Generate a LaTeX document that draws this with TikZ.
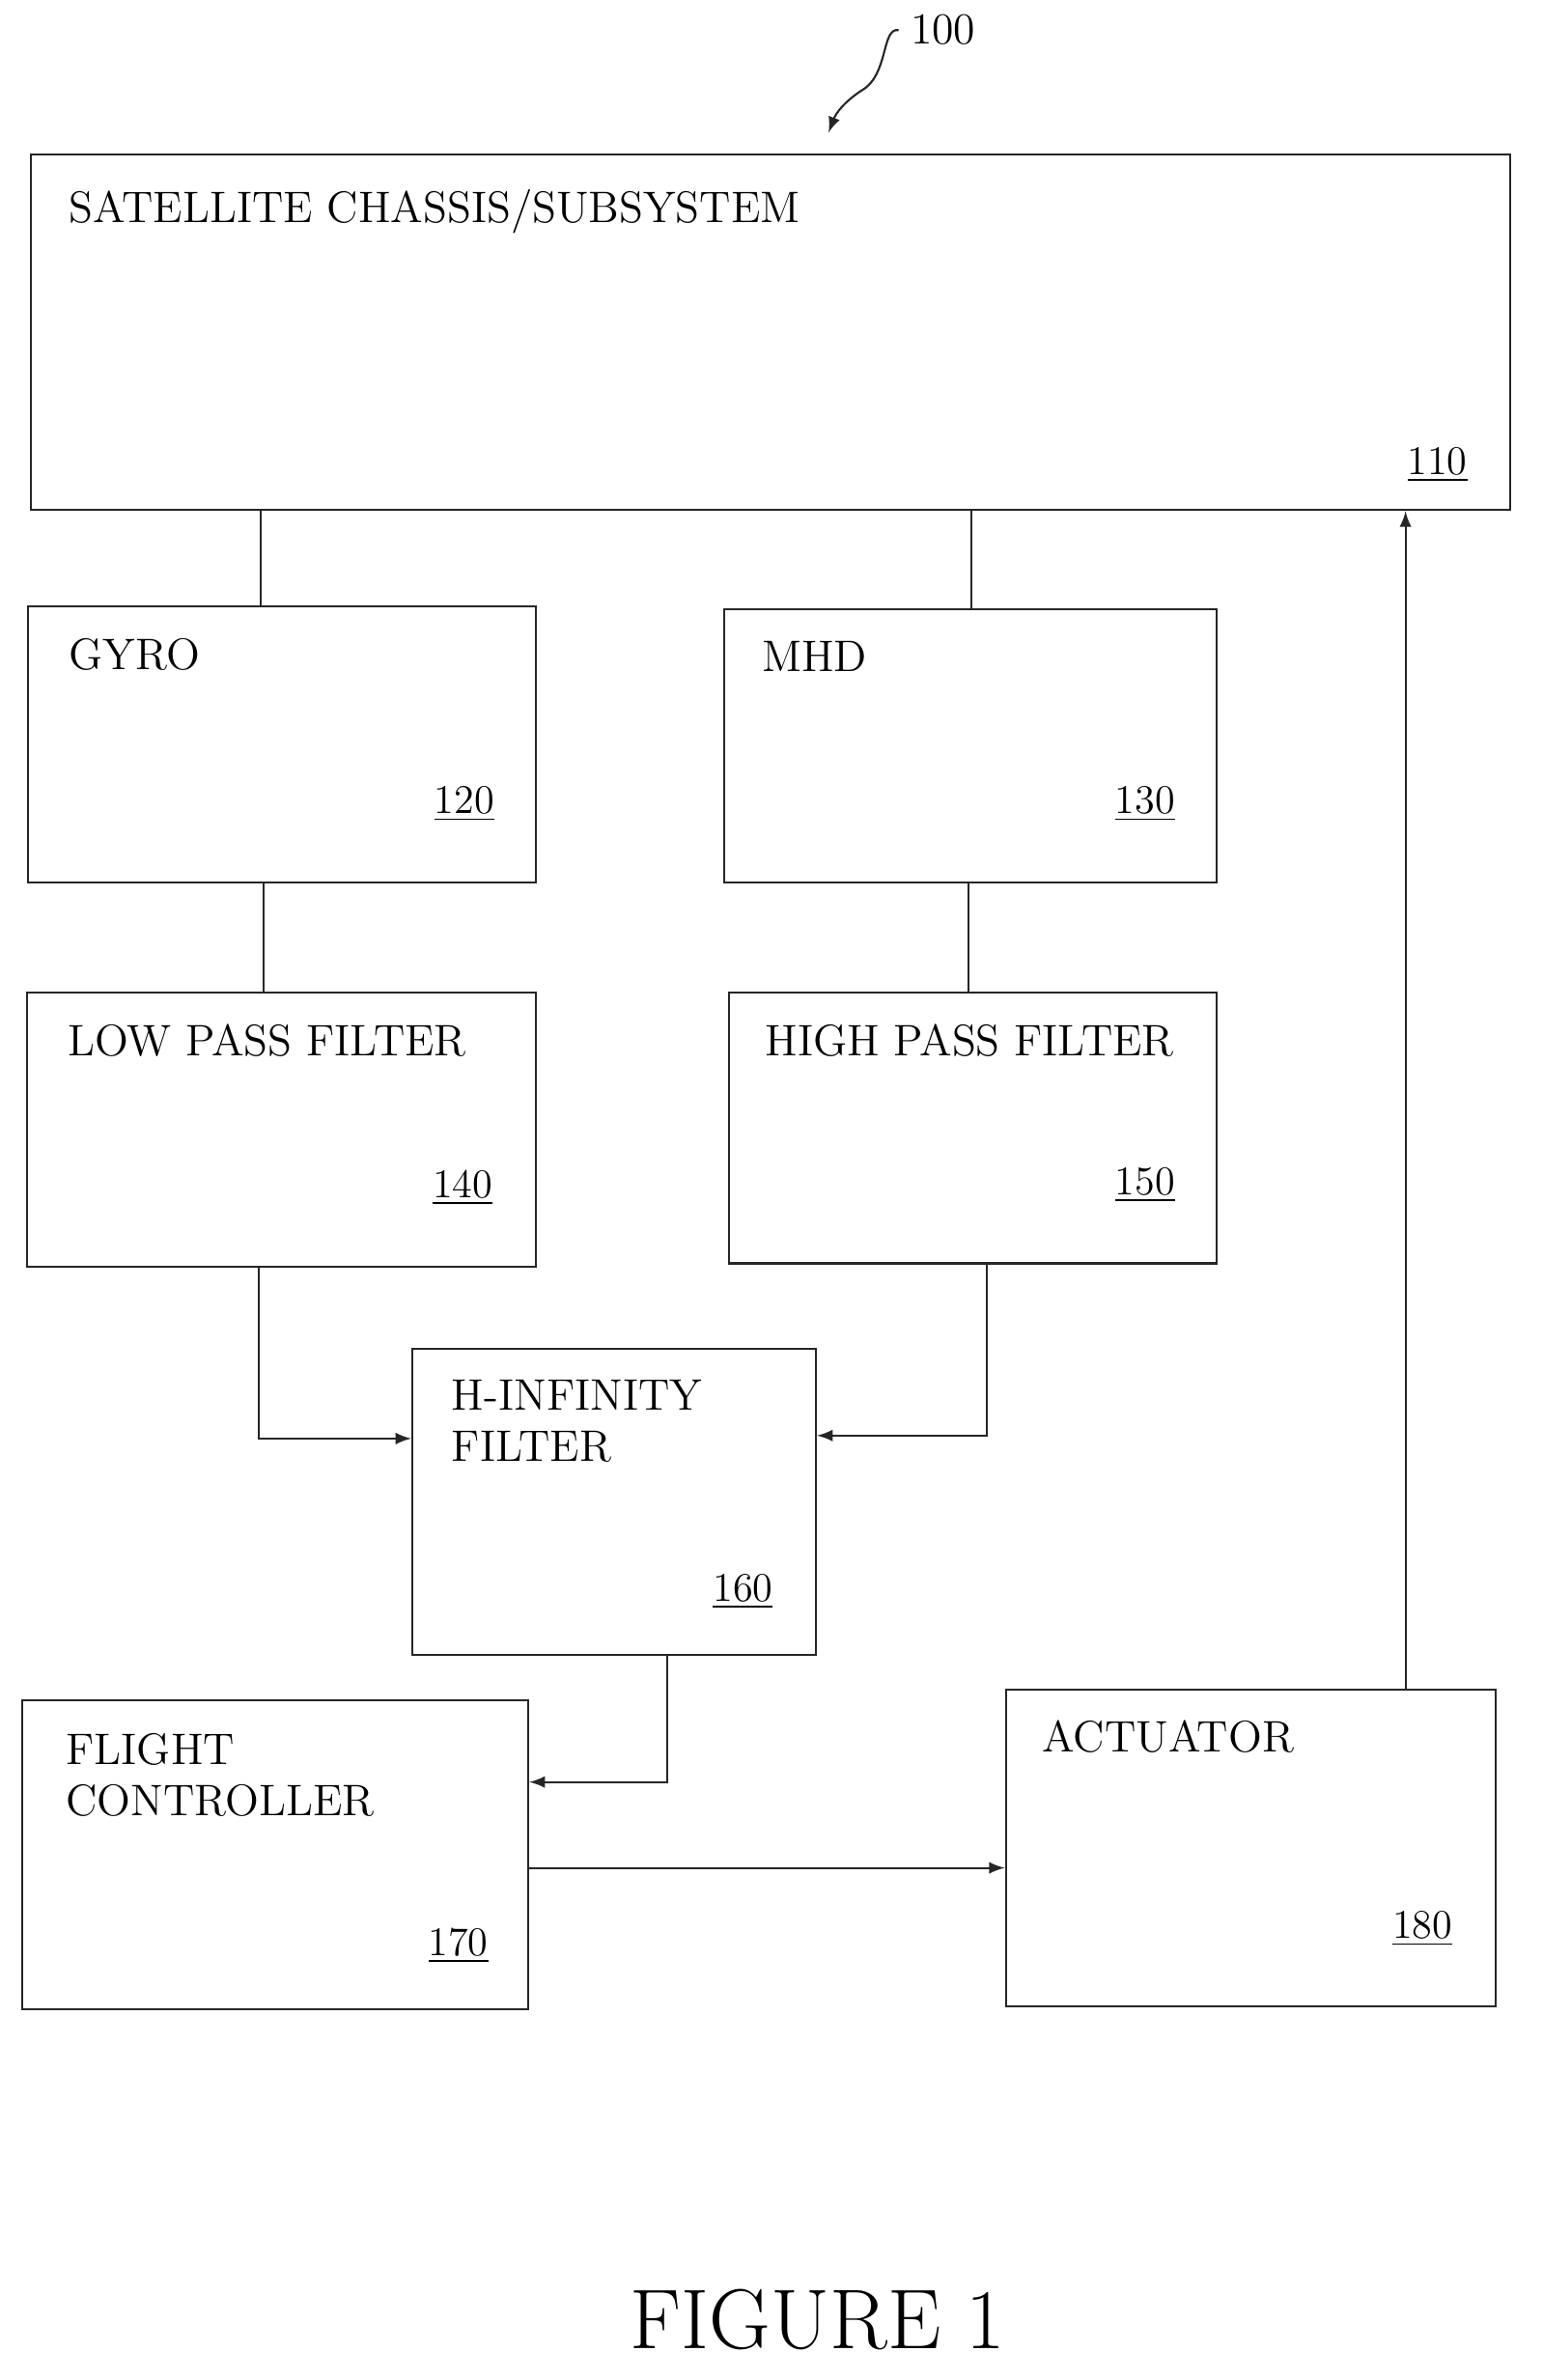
\documentclass[tikz,border=0pt]{standalone}
\usetikzlibrary{positioning}
\begin{document}
\begin{tikzpicture}[x=0.0156cm,y=-0.0156cm,
  box/.style={draw=black!85,line width=0.6pt,anchor=north west,inner sep=0pt},
  txt/.style={anchor=north west,align=left,font=\fontsize{13}{15}\selectfont},
  num/.style={anchor=south east,font=\fontsize{12}{14}\selectfont},
  link/.style={draw=black!85,line width=0.6pt},
  arr/.style={link,-latex}]
\useasboundingbox (0,0) rectangle (1024,1580);
% boxes
\node[box,minimum width=982*0.0156cm,minimum height=236*0.0156cm] (sat) at (20,102) {};
\node[box,minimum width=337*0.0156cm,minimum height=183*0.0156cm] (gyro) at (18,402) {};
\node[box,minimum width=327*0.0156cm,minimum height=181*0.0156cm] (mhd) at (480,404) {};
\node[box,minimum width=338*0.0156cm,minimum height=182*0.0156cm] (lpf) at (17,658) {};
\node[box,minimum width=324*0.0156cm,minimum height=180*0.0156cm] (hpf) at (483,658) {};
\node[box,minimum width=268*0.0156cm,minimum height=203*0.0156cm] (hinf) at (273,895) {};
\node[box,minimum width=336*0.0156cm,minimum height=205*0.0156cm] (fc) at (14,1128) {};
\node[box,minimum width=325*0.0156cm,minimum height=210*0.0156cm] (act) at (667,1121) {};
% texts
\node[txt] (satT) at (38,118) {SATELLITE CHASSIS/SUBSYSTEM};
\node[txt] (gyroT) at (38,416) {GYRO};
\node[txt] (mhdT) at (498,418) {MHD};
\node[txt] (lpfT) at (37,672) {LOW PASS FILTER};
\node[txt] (hpfT) at (500,672) {HIGH PASS FILTER};
\node[txt] (hinfT) at (292,908) {H-INFINITY\\FILTER};
\node[txt] (fcT) at (36,1143) {FLIGHT\\CONTROLLER};
\node[txt] (actT) at (684,1134) {ACTUATOR};
% numbers
\node[num] (satN) at (982,328) {\underline{110}};
\node[num] (gyroN) at (336,553) {\underline{120}};
\node[num] (mhdN) at (788,553) {\underline{130}};
\node[num] (lpfN) at (335,808) {\underline{140}};
\node[num] (hpfN) at (788,806) {\underline{150}};
\node[num] (hinfN) at (521,1076) {\underline{160}};
\node[num] (fcN) at (332,1311) {\underline{170}};
\node[num] (actN) at (972,1300) {\underline{180}};
% connectors
\draw[link] (sat.south west -| 173,0) -- (gyro.north west -| 173,0);
\draw[link] (sat.south west -| 645,0) -- (mhd.north west -| 645,0);
\draw[link] (gyro.south west -| 175,0) -- (lpf.north west -| 175,0);
\draw[link] (mhd.south west -| 643,0) -- (hpf.north west -| 643,0);
\draw[arr] (lpf.south west -| 172,0) |- (hinf.west |- 0,955);
\draw[arr] (hpf.south west -| 655,0) |- (hinf.east |- 0,953);
\draw[arr] (hinf.south west -| 443,0) |- (fc.east |- 0,1183);
\draw[arr] (fc.east |- 0,1240) -- (act.west |- 0,1240);
\draw[arr] (act.north west -| 933,0) -- (sat.south west -| 933,0);
% reference label
\node[font=\fontsize{13}{15}\selectfont] (ref) at (626,20) {100};
\draw[arr] (ref.west) .. controls (585,18) and (590,50) .. (572,60)
  .. controls (560,68) and (555,75) .. (550,88);
\node[font=\fontsize{25}{28}\selectfont] (fig) at (543,1540) {FIGURE 1};
\end{tikzpicture}
\end{document}
